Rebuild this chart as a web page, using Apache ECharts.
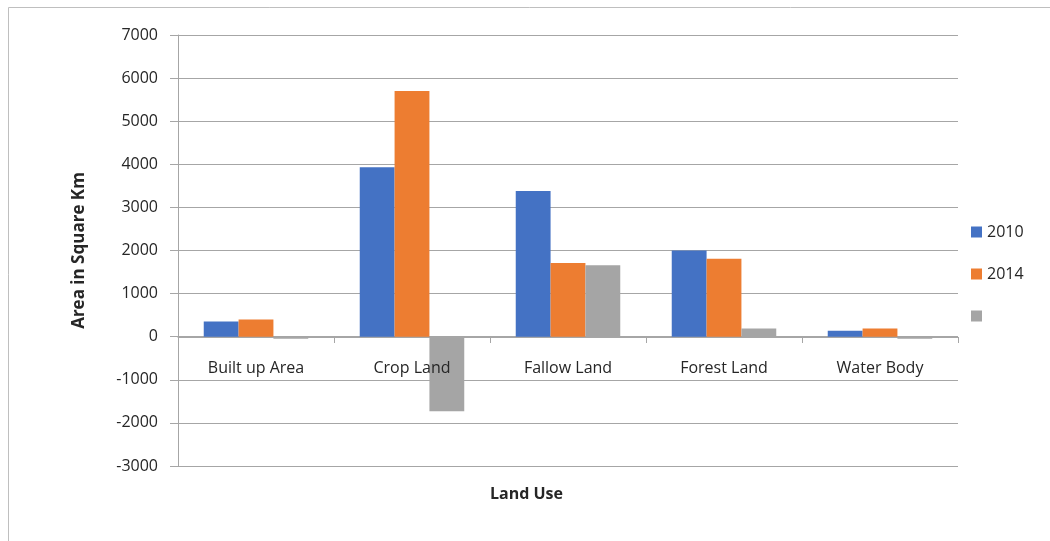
<!DOCTYPE html>
<html lang="en">
<head>
    <meta charset="UTF-8">
    <title>Land Use</title>
    <script src="https://cdn.jsdelivr.net/npm/echarts@6/dist/echarts.min.js"></script>
    <style>
        body { margin: 0; background: #fff; }
        #main { width: 1050px; height: 541px; }
    </style>
</head>
<body>
    <div id="main"></div>
    <script>
        // categories and values
        var categories = ['Built up Area', 'Crop Land', 'Fallow Land', 'Forest Land', 'Water Body'];
        var years = ['2010', '2014', ' '];
        var area2010 = [350, 3930, 3380, 2000, 140];
        var area2014 = [400, 5700, 1710, 1810, 190];
        var change = [-50, -1730, 1660, 190, -50];

        var chart = echarts.init(document.getElementById('main'));
        var gridColor = '#a6a6a6';
        var font = 'Open Sans, Noto Sans, sans-serif';

        chart.setOption({
            animation: false,
            graphic: [{
                type: 'rect',
                shape: { x: 8.5, y: 7.5, width: 1100, height: 600 },
                style: { fill: 'none', stroke: '#bfbfbf', lineWidth: 1 }
            }, {
                type: 'text',
                left: 490, top: 486,
                style: { text: 'Land Use', font: 'bold 16px ' + font, fill: '#262626' }
            }],
            legend: {
                orient: 'vertical',
                left: 966, top: 219,
                itemGap: 26,
                itemWidth: 11, itemHeight: 11,
                icon: 'rect',
                data: years,
                textStyle: { fontSize: 16, color: '#262626', fontFamily: font }
            },
            grid: { left: 178, right: 92, top: 35, bottom: 75 },
            xAxis: {
                type: 'category',
                data: categories,
                offset: -129,
                z: 5,
                axisLine: { onZero: false, lineStyle: { color: gridColor } },
                axisTick: { show: true, length: 6, lineStyle: { color: gridColor } },
                axisLabel: { margin: 23, fontSize: 16, color: '#262626', fontFamily: font }
            },
            yAxis: {
                type: 'value',
                min: -3000, max: 7000, interval: 1000,
                name: 'Area in Square Km',
                nameLocation: 'middle',
                nameGap: 90,
                nameTextStyle: { fontSize: 17, fontWeight: 'bold', color: '#262626', fontFamily: font },
                axisLine: { show: true, lineStyle: { color: gridColor } },
                axisTick: { show: true, length: 8, lineStyle: { color: gridColor } },
                axisLabel: {
                    margin: 20, fontSize: 16, color: '#262626', fontFamily: font,
                    formatter: function (v) { return String(v); }
                },
                splitLine: { lineStyle: { color: gridColor, width: 1 } }
            },
            series: [{
                name: years[0], type: 'bar', data: area2010,
                barGap: '0%', barCategoryGap: '33%',
                itemStyle: { color: '#4472c4' }
            }, {
                name: years[1], type: 'bar', data: area2014,
                itemStyle: { color: '#ed7d31' }
            }, {
                name: years[2], type: 'bar', data: change,
                itemStyle: { color: '#a5a5a5' }
            }]
        });
    </script>
</body>
</html>
